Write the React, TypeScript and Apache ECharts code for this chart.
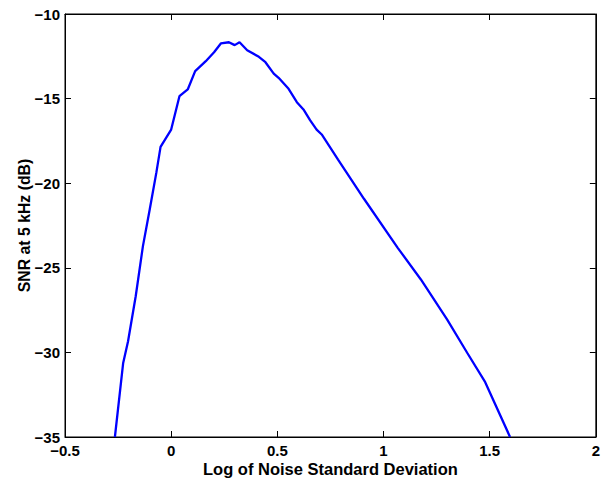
import React, { useEffect, useRef } from "react";
import * as echarts from "echarts";

const logNoise = [
  -0.265, -0.226, -0.203, -0.167, -0.133, -0.101, -0.07, -0.05, 0, 0.039, 0.078, 0.113,
  0.163, 0.202, 0.234, 0.272, 0.299, 0.322, 0.358, 0.413, 0.444, 0.483, 0.506, 0.553,
  0.592, 0.623, 0.654, 0.685, 0.709, 0.786, 0.908, 1.067, 1.176, 1.3, 1.394, 1.479, 1.596,
];
const snrDb = [
  -35.0, -30.62, -29.34, -26.68, -23.72, -21.55, -19.39, -17.85, -16.83, -14.86, -14.46, -13.38,
  -12.79, -12.26, -11.74, -11.67, -11.84, -11.67, -12.14, -12.53, -12.85, -13.52, -13.77, -14.42,
  -15.21, -15.64, -16.27, -16.83, -17.12, -18.6, -20.92, -23.82, -25.69, -28.06, -30.02, -31.76, -35.0,
];

const xMin = -0.5;
const xMax = 2;
const xStep = 0.5;
const yMin = -35;
const yMax = -10;
const yStep = 5;

const FONT = "'Liberation Sans', Arial, sans-serif";
const fmt = (v: number) => String(v).replace("-", "\u2212");

export default function App() {
  const ref = useRef<HTMLDivElement>(null);
  useEffect(() => {
    if (!ref.current) return;
    const chart = echarts.init(ref.current, undefined, { renderer: "svg" });
    const axisLine = { show: true, onZero: false, lineStyle: { color: "#000", width: 1 } };
    const tick = { show: true, inside: true, length: 6, lineStyle: { color: "#000", width: 1 } };
    const labelStyle = { color: "#000", fontFamily: FONT, fontWeight: "bold" as const, fontSize: 15 };
    chart.setOption({
      animation: false,
      backgroundColor: "#fff",
      grid: {
        left: 65,
        top: 14,
        width: 534,
        height: 423,
        containLabel: false,
        show: true,
        borderColor: "#000",
        borderWidth: 1,
        backgroundColor: "transparent",
      },
      xAxis: [
        {
          type: "value",
          min: xMin,
          max: xMax,
          interval: xStep,
          position: "bottom",
          axisLine,
          axisTick: tick,
          splitLine: { show: false },
          axisLabel: { ...labelStyle, margin: 6, formatter: fmt },
          name: "Log of Noise Standard Deviation",
          nameLocation: "middle",
          nameGap: 23,
          nameMoveOverlap: false,
          nameTextStyle: { ...labelStyle, fontSize: 16.5 },
        },
        {
          type: "value",
          min: xMin,
          max: xMax,
          interval: xStep,
          position: "top",
          axisLine,
          axisTick: tick,
          splitLine: { show: false },
          axisLabel: { show: false },
        },
      ],
      yAxis: [
        {
          type: "value",
          min: yMin,
          max: yMax,
          interval: yStep,
          position: "left",
          axisLine,
          axisTick: tick,
          splitLine: { show: false },
          axisLabel: { ...labelStyle, margin: 5, formatter: fmt },
          name: "SNR at 5 kHz (dB)",
          nameLocation: "middle",
          nameGap: 33,
          nameMoveOverlap: false,
          nameTextStyle: { ...labelStyle, fontSize: 15.8 },
        },
        {
          type: "value",
          min: yMin,
          max: yMax,
          interval: yStep,
          position: "right",
          axisLine,
          axisTick: tick,
          splitLine: { show: false },
          axisLabel: { show: false },
        },
      ],
      series: [
        {
          type: "line",
          xAxisIndex: 0,
          yAxisIndex: 0,
          data: logNoise.map((x, i) => [x, snrDb[i]]),
          showSymbol: false,
          symbol: "none",
          lineStyle: { color: "#0000ff", width: 2.3 },
          clip: true,
        },
      ],
    });
    return () => chart.dispose();
  }, []);
  return (
    <div
      ref={ref}
      style={{ width: 603, height: 482, position: "fixed", left: 0, top: 0, overflow: "hidden" }}
    />
  );
}
